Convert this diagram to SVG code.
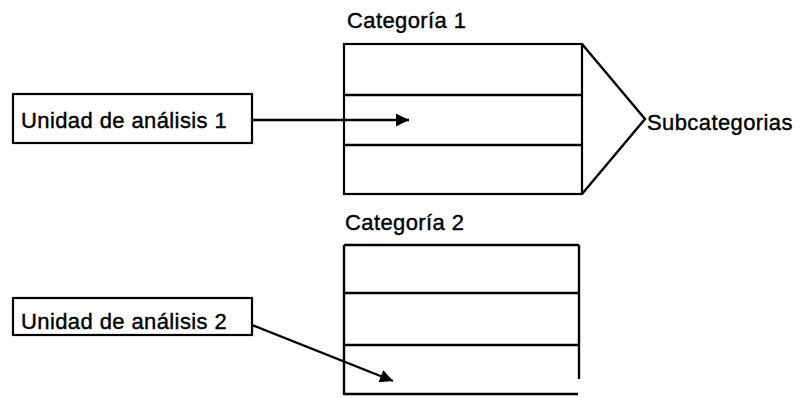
<svg xmlns="http://www.w3.org/2000/svg" width="801" height="398" viewBox="0 0 801 398">
<style>
text{font-family:"Liberation Sans",Arial,sans-serif;font-size:22px;letter-spacing:0.4px;fill:#000;stroke:#000;stroke-width:0.4}
.b{fill:#fff;stroke:#000;stroke-width:2.2}
.l{stroke:#000;stroke-width:2.4;fill:none}
</style>
<defs>
<marker id="ah" viewBox="0 0 10 10" refX="10" refY="5" markerWidth="16" markerHeight="13" markerUnits="userSpaceOnUse" orient="auto">
<path d="M0,0L10,5L0,10z" fill="#000"/>
</marker>
</defs>
<rect width="801" height="398" fill="#fff"/>
<g id="cat1">
<text x="347" y="28">Categoría 1</text>
<rect class="b" x="344" y="44" width="238" height="150"/>
<line class="l" x1="344" y1="95" x2="582" y2="95"/>
<line class="l" x1="344" y1="145" x2="582" y2="145"/>
<polyline class="l" points="582,44 645,119 582,194"/>
<text x="647" y="130">Subcategorias</text>
</g>
<g id="cat2">
<text x="345" y="230">Categoría 2</text>
<line class="l" x1="344" y1="245" x2="579" y2="245"/>
<line class="l" x1="344" y1="293" x2="579" y2="293"/>
<line class="l" x1="344" y1="345" x2="579" y2="345"/>
<line class="l" x1="344" y1="245" x2="344" y2="395"/>
<line class="l" x1="579" y1="245" x2="579" y2="379"/>
<line class="l" x1="344" y1="394" x2="578" y2="394"/>
</g>
<g id="u1">
<rect class="b" x="13" y="94" width="239" height="49"/>
<text x="21" y="128">Unidad de análisis 1</text>
</g>
<g id="u2">
<rect class="b" x="13" y="298" width="239" height="37"/>
<text x="21" y="329">Unidad de análisis 2</text>
</g>
<g id="connectors">
<line class="l" x1="252" y1="120" x2="409" y2="120" marker-end="url(#ah)"/>
<line class="l" x1="252" y1="325" x2="393" y2="381" marker-end="url(#ah)"/>
</g>
</svg>
